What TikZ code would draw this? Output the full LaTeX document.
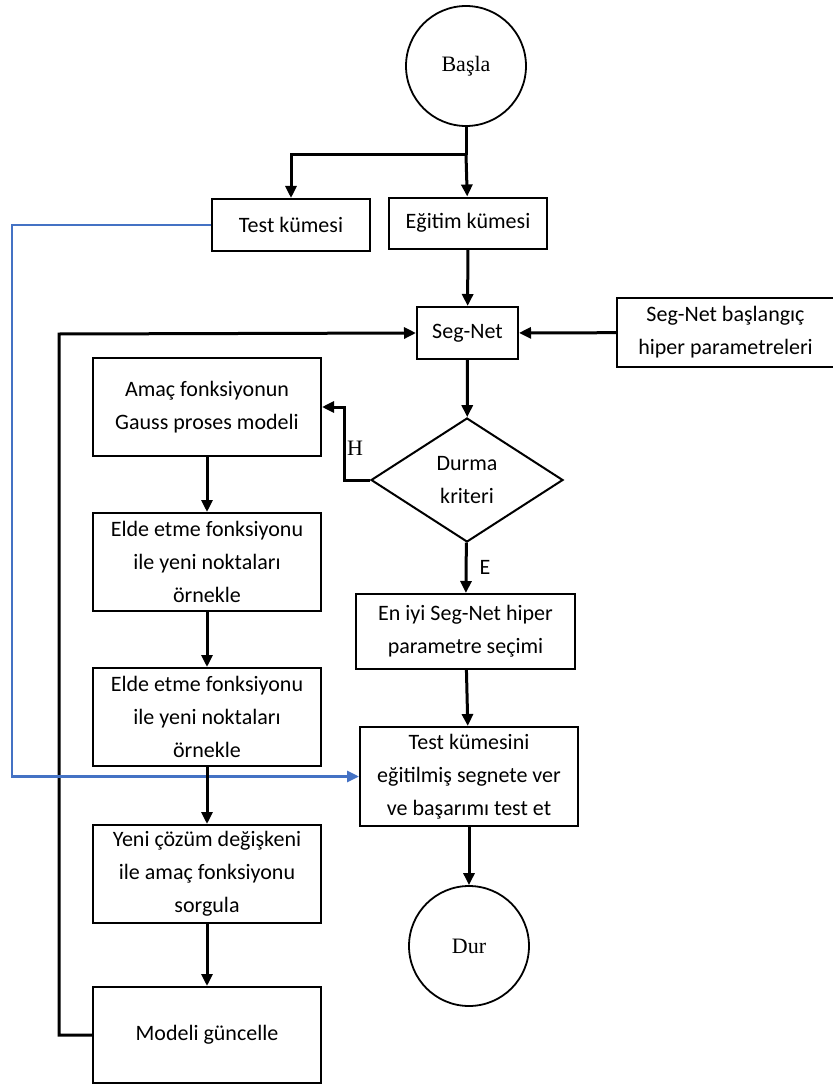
\documentclass[tikz,border=0pt]{standalone}
\usepackage{fontspec}
\setmainfont{Carlito}
\newfontfamily\serifrm{Liberation Serif}
\usetikzlibrary{shapes.geometric,arrows.meta}
\definecolor{linkblue}{RGB}{68,114,196}

\begin{document}
\begin{tikzpicture}[x=1pt,y=-1pt,
  every node/.style={font=\fontsize{22}{33}\selectfont},
  box/.style={draw,line width=2pt,align=center,inner sep=0pt},
  term/.style={draw,circle,line width=1.8pt,minimum size=120pt,inner sep=0pt,
    font=\serifrm\fontsize{22}{26}\selectfont},
  conn/.style={line width=3pt},
  arr/.style={conn,-{Triangle[length=12pt,width=11pt]}},
  bluearr/.style={line width=2.8pt,linkblue,-{Triangle[length=12pt,width=11pt]}}]
\useasboundingbox (0,0) rectangle (832,1086);

\node[term] (start) at (466,66) {Başla};
\node[box,minimum width=158pt,minimum height=52pt] (test) at (291,225) {Test kümesi};
\node[box,minimum width=158pt,minimum height=51pt] (egitim) at (468,223) {Eğitim kümesi};
\node[box,minimum width=101pt,minimum height=52pt] (segnet) at (467.5,333) {Seg-Net};
\node[box,minimum width=217pt,minimum height=69pt] (baslangic) at (725.5,332.5)
  {Seg-Net başlangıç\\hiper parametreleri};
\node[draw,diamond,line width=2pt,minimum width=192pt,minimum height=124pt,
  inner sep=0pt,align=center] (durma) at (467,480) {Durma\\kriteri};
\node[box,minimum width=219pt,minimum height=75pt] (eniyi) at (465.5,631.5)
  {En iyi Seg-Net hiper\\parametre seçimi};
\node[box,minimum width=218pt,minimum height=99pt] (testset) at (469,776.5)
  {Test kümesini\\eğitilmiş segnete ver\\ve başarımı test et};
\node[term] (dur) at (469,946) {Dur};

\foreach \n/\y/\h/\t in
  {gauss/407/98/{Amaç fonksiyonun\\Gauss proses modeli},
   elde1/562/98/{Elde etme fonksiyonu\\ile yeni noktaları\\örnekle},
   elde2/717/98/{Elde etme fonksiyonu\\ile yeni noktaları\\örnekle},
   yeni/874/98/{Yeni çözüm değişkeni\\ile amaç fonksiyonu\\sorgula},
   modeli/1035/96/{Modeli güncelle}}
  \node[box,minimum width=228pt,minimum height=\h pt] (\n) at (207,\y) {\t};

\coordinate (split) at (466,155);
\coordinate (loopcorner) at (59,334);
\coordinate (bluecorner) at (12,776.5);

\draw[arr] (modeli.west) -| (loopcorner) -- (segnet.west);
\draw[bluearr] (test.west) -| (bluecorner) -- (testset.west);

\draw[conn] (start) -- (split);
\draw[arr] (split) -- (egitim);
\draw[arr] (split) -| (test);
\draw[arr] (egitim) -- (segnet);
\draw[arr] (baslangic) -- (segnet);
\draw[arr] (segnet) -- (durma);
\draw[arr] (durma.west) -- ++(-26,0) |- (gauss.east);
\draw[arr] (durma) -- (eniyi);
\draw[arr] (eniyi) -- (testset);
\draw[arr] (testset) -- (dur);
\foreach \a/\b in {gauss/elde1, elde1/elde2, elde2/yeni, yeni/modeli}
  \draw[arr] (\a) -- (\b);

\node[font=\serifrm\fontsize{22}{26}\selectfont] (hlbl) at (355,448) {H};
\node (elbl) at (485,567) {E};
\end{tikzpicture}
\end{document}
